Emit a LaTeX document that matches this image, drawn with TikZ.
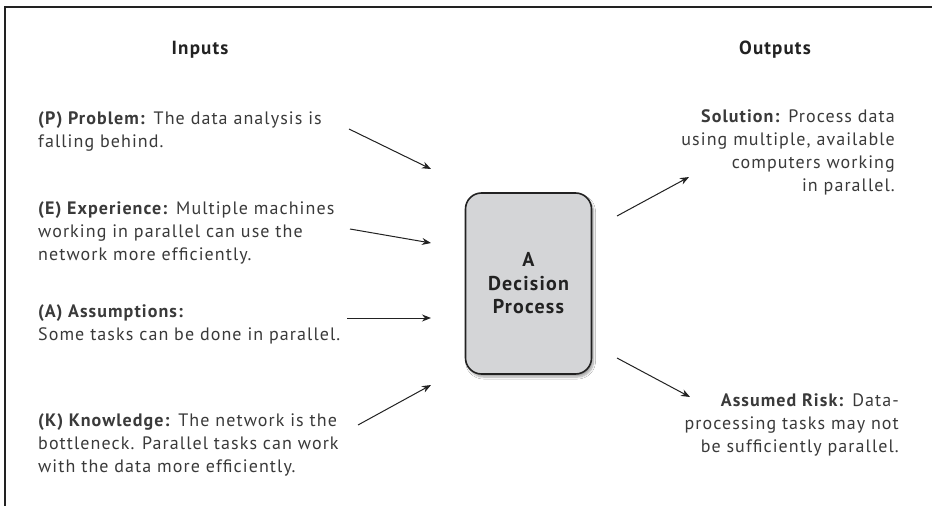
\documentclass[tikz,border=0pt]{standalone}
\usepackage{fontspec}
\setmainfont{PT Sans}[LetterSpace=6]
\usetikzlibrary{arrows.meta,shadows.blur}
\definecolor{txt}{HTML}{3A3A3A}
\definecolor{boxfill}{HTML}{D4D5D7}
\definecolor{linec}{HTML}{222222}
\tikzset{
  lbl/.style={font=\fontsize{18}{23}\selectfont, text=txt, inner sep=0pt},
  head/.style={font=\fontsize{19}{23}\selectfont\bfseries, text=linec, inner sep=0pt},
  inarrow/.style={draw=linec, line width=1pt, -{Stealth[length=9pt,width=7pt]}},
  procbox/.style={draw=linec, line width=1.6pt, fill=boxfill, rounded corners=16pt,
    minimum width=126pt, minimum height=181pt,
    blur shadow={shadow xshift=2pt, shadow yshift=-3pt, shadow blur steps=8, shadow opacity=35},
    font=\fontsize{20}{23.5}\selectfont\bfseries, text=linec, align=center}
}
\begin{document}
\begin{tikzpicture}[x=1pt,y=-1pt]
\useasboundingbox (0,0) rectangle (932,506);
\fill[white] (0,0) rectangle (932,506);
% frame
\draw[linec, line width=1.2pt] (5,506) -- (5,7) -- (932,7);
% headings
\node[head] (inputs) at (200,50) {Inputs};
\node[head] (outputs) at (775,50) {Outputs};
% inputs
\node[lbl, anchor=north west, align=left] (P) at (38,111)
  {\textbf{(P) Problem:} The data analysis is\\falling behind.};
\node[lbl, anchor=north west, align=left] (E) at (38,201)
  {\textbf{(E) Experience:} Multiple machines\\working in parallel can use the\\network more efficiently.};
\node[lbl, anchor=north west, align=left] (A) at (38,304)
  {\textbf{(A) Assumptions:}\\Some tasks can be done in parallel.};
\node[lbl, anchor=north west, align=left] (K) at (38,413)
  {\textbf{(K) Knowledge:} The network is the\\bottleneck. Parallel tasks can work\\with the data more efficiently.};
% process
\node[procbox] (proc) at (528.5,283.5) {A\\Decision\\Process};
% outputs
\node[lbl, anchor=north east, align=right] (S) at (895,109)
  {\textbf{Solution:} Process data\\using multiple, available\\computers working\\in parallel.};
\node[lbl, anchor=north east, align=right] (R) at (899,393)
  {\textbf{Assumed Risk:} Data-\\processing tasks may not\\be sufficiently parallel.};
% arrow end points
\coordinate (p1) at (349,129); \coordinate (p2) at (431,169);
\coordinate (e1) at (350,229); \coordinate (e2) at (431,243);
\coordinate (a1) at (347,318); \coordinate (a2) at (431,318);
\coordinate (k1) at (358,425); \coordinate (k2) at (431,385);
\coordinate (s1) at (617,216); \coordinate (s2) at (689,177);
\coordinate (r1) at (617,358); \coordinate (r2) at (690,397);
\draw[inarrow] (p1) -- (p2);
\draw[inarrow] (e1) -- (e2);
\draw[inarrow] (a1) -- (a2);
\draw[inarrow] (k1) -- (k2);
\draw[inarrow] (s1) -- (s2);
\draw[inarrow] (r1) -- (r2);
\end{tikzpicture}
\end{document}
